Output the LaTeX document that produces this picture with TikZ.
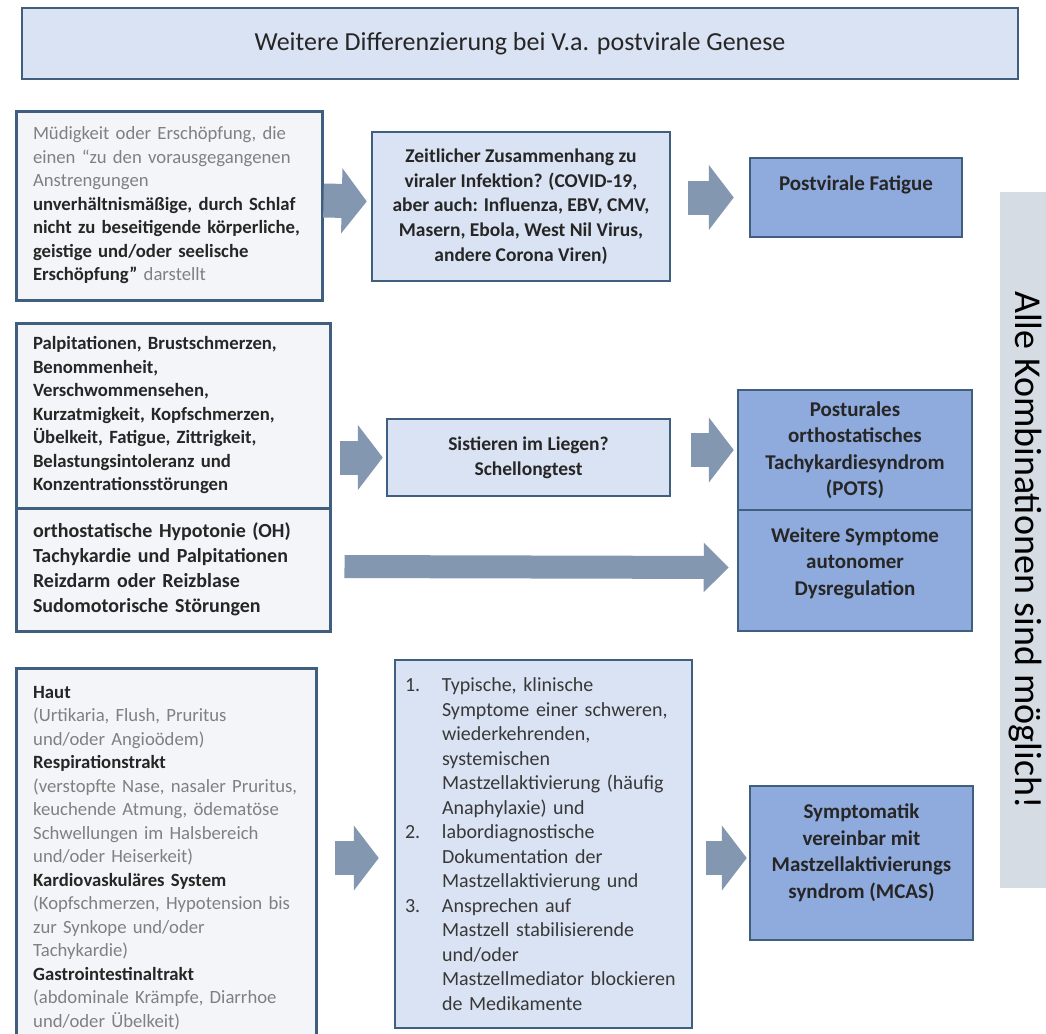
\documentclass[tikz,border=0pt]{standalone}
\usepackage{fontspec}
\setmainfont{Carlito}
\usepackage{xcolor}
\usetikzlibrary{arrows.meta}

\definecolor{frame}{RGB}{64,94,126}
\definecolor{paleback}{RGB}{243,245,248}
\definecolor{lightblue}{RGB}{218,227,243}
\definecolor{midblue}{RGB}{143,170,220}
\definecolor{arrowgray}{RGB}{132,151,176}
\definecolor{sidegray}{RGB}{214,220,228}
\definecolor{greytxt}{RGB}{128,128,128}
\definecolor{darktxt}{RGB}{38,38,38}

\newcommand{\titlefont}{\fontsize{26}{32}\selectfont}
\newcommand{\txtA}{\fontsize{18.7}{23.5}\selectfont}
\newcommand{\txtB}{\fontsize{19.5}{24.8}\selectfont}
\newcommand{\txtC}{\fontsize{21}{26.5}\selectfont}
\newcommand{\txtD}{\fontsize{20}{25}\selectfont}
\newcommand{\txtE}{\fontsize{20}{24.5}\selectfont}
\newcommand{\sidefont}{\fontsize{38}{46}\selectfont}
\newcommand{\listnum}[1]{\makebox[37pt][l]{#1}}

\begin{document}
\begin{tikzpicture}[x=1pt,y=-1pt,
  every node/.style={inner sep=0pt, text=darktxt},
  leftbox/.style={draw=frame, line width=3pt, fill=paleback},
  askbox/.style={draw=frame, line width=2.5pt, fill=lightblue},
  resbox/.style={draw=frame, line width=2.5pt, fill=midblue},
  fatarrow/.style={draw=arrowgray, line width=34pt, -{Triangle[length=25pt,width=64pt]}},
  slimarrow/.style={draw=arrowgray, line width=23pt, -{Triangle[length=25pt,width=48pt]}}]
%\draw[help lines] (0,0) grid[step=50] (1046,1033);

\useasboundingbox (0,0) rectangle (1046,1033);
\clip (0,0) rectangle (1046,1033);
\fill[white] (0,0) rectangle (1046,1033);

\node[askbox, minimum width=996pt, minimum height=71pt, font=\titlefont] (title) at (520,43.5) {Weitere Differenzierung bei V.a. postvirale Genese};

% erste Zeile
\node[leftbox, minimum width=306pt, minimum height=189pt, text width=272pt, align=left, font=\txtA] (fatigue) at (169,205.5)
  {\textcolor{greytxt}{Müdigkeit oder Erschöpfung, die}\\
   \textcolor{greytxt}{einen “zu den vorausgegangenen}\\
   \textcolor{greytxt}{Anstrengungen}\\
   \textbf{unverhältnismäßige, durch Schlaf}\\
   \textbf{nicht zu beseitigende körperliche,}\\
   \textbf{geistige und/oder seelische}\\
   \textbf{Erschöpfung”} \textcolor{greytxt}{darstellt}};
\node[askbox, minimum width=298pt, minimum height=149pt, align=center, font=\txtB\bfseries] (infekt) at (521,206.5)
  {Zeitlicher Zusammenhang zu\\ viraler Infektion? (COVID-19,\\ aber auch: Influenza, EBV, CMV,\\ Masern, Ebola, West Nil Virus,\\ andere Corona Viren)};
\node[resbox, minimum width=212pt, minimum height=79pt] (postviral) at (856,197.5) {};
\node[font=\txtC\bfseries] (postviraltxt) at (856,185) {Postvirale Fatigue};

\draw[fatarrow, shorten >=4pt] ([yshift=5pt]fatigue.east) -- ([yshift=5pt]infekt.west);
\draw[fatarrow, shorten <=17pt, shorten >=15pt] (infekt.east |- postviral.west) -- (postviral.west);

% zweite Zeile
\node[leftbox, minimum width=314pt, minimum height=185pt, text width=280pt, align=left, font=\txtA\bfseries] (symptome) at (173,415.5)
  {Palpitationen, Brustschmerzen,\\ Benommenheit,\\ Verschwommensehen,\\ Kurzatmigkeit, Kopfschmerzen,\\ Übelkeit, Fatigue, Zittrigkeit,\\ Belastungsintoleranz und\\ Konzentrationsstörungen};
\node[leftbox, minimum width=314pt, minimum height=123pt, text width=280pt, align=left, font=\txtD\bfseries] (ohbox) at (173,569.5)
  {orthostatische Hypotonie (OH)\\ Tachykardie und Palpitationen\\ Reizdarm oder Reizblase\\ Sudomotorische Störungen};
\node[askbox, minimum width=283pt, minimum height=77pt, align=center, font=\txtB\bfseries] (schellong) at (528.5,457.5)
  {Sistieren im Liegen?\\ Schellongtest};
\node[resbox, minimum width=234pt, minimum height=120pt, align=center, font=\txtC\bfseries] (pots) at (855,450)
  {Posturales\\ orthostatisches\\ Tachykardiesyndrom\\ (POTS)};
\node[resbox, minimum width=234pt, minimum height=121pt] (autonom) at (855,570.5) {};
\node[align=center, font=\txtC\bfseries] (autonomtxt) at (855,563) {Weitere Symptome\\ autonomer\\ Dysregulation};

\draw[fatarrow, shorten <=8pt, shorten >=3pt] (symptome.east |- schellong.west) -- (schellong.west);
\draw[fatarrow, shorten <=20pt, shorten >=3pt] (schellong.east |- pots.west) -- (pots.west);
\draw[slimarrow, shorten <=13pt, shorten >=8pt] ([yshift=3pt]ohbox.east) -- ([yshift=3pt]autonom.west);

% dritte Zeile
\node[leftbox, minimum width=300pt, minimum height=380pt] (mcsympt) at (166,858) {};
\node[anchor=base west, text width=266pt, align=left, font=\txtA] (mcsympttxt) at (33,698)
  {\textbf{Haut}\\
   \textcolor{greytxt}{(Urtikaria, Flush, Pruritus}\\
   \textcolor{greytxt}{und/oder Angioödem)}\\
   \textbf{Respirationstrakt}\\
   \textcolor{greytxt}{(verstopfte Nase, nasaler Pruritus,}\\
   \textcolor{greytxt}{keuchende Atmung, ödematöse}\\
   \textcolor{greytxt}{Schwellungen im Halsbereich}\\
   \textcolor{greytxt}{und/oder Heiserkeit)}\\
   \textbf{Kardiovaskuläres System}\\
   \textcolor{greytxt}{(Kopfschmerzen, Hypotension bis}\\
   \textcolor{greytxt}{zur Synkope und/oder}\\
   \textcolor{greytxt}{Tachykardie)}\\
   \textbf{Gastrointestinaltrakt}\\
   \textcolor{greytxt}{(abdominale Krämpfe, Diarrhoe}\\
   \textcolor{greytxt}{und/oder Übelkeit)}};
\node[askbox, minimum width=297pt, minimum height=368pt, text width=277pt, align=left, font=\txtE, text=black!78] (kriterien) at (543.5,844)
  {\listnum{1.}Typische, klinische\\
   \listnum{}Symptome einer schweren,\\
   \listnum{}wiederkehrenden,\\
   \listnum{}systemischen\\
   \listnum{}Mastzellaktivierung (häufig\\
   \listnum{}Anaphylaxie) und\\
   \listnum{2.}labordiagnostische\\
   \listnum{}Dokumentation der\\
   \listnum{}Mastzellaktivierung und\\
   \listnum{3.}Ansprechen auf\\
   \listnum{}Mastzell stabilisierende\\
   \listnum{}und/oder\\
   \listnum{}Mastzellmediator blockieren\\
   \listnum{}de Medikamente};
\node[resbox, minimum width=223pt, minimum height=154pt] (mcas) at (861.5,863) {};
\node[align=center, font=\txtC\bfseries] (mcastxt) at (861.5,853) {Symptomatik\\ vereinbar mit\\ Mastzellaktivierungs\\ syndrom (MCAS)};

\draw[fatarrow, shorten <=17pt, shorten >=15pt] (mcsympt.east) -- (kriterien.west |- mcsympt.east);
\draw[fatarrow, shorten <=13pt, shorten >=2pt] (kriterien.east |- mcsympt.east) -- (mcas.west |- mcsympt.east);

% rechter Rand
\node[fill=sidegray, minimum width=50pt, minimum height=696pt] (sidebox) at (1025,540) {};
\node[rotate=-90, font=\sidefont, text=black] (sidetxt) at ([yshift=-10pt]sidebox.center) {Alle Kombinationen sind möglich!};
\end{tikzpicture}
\end{document}
